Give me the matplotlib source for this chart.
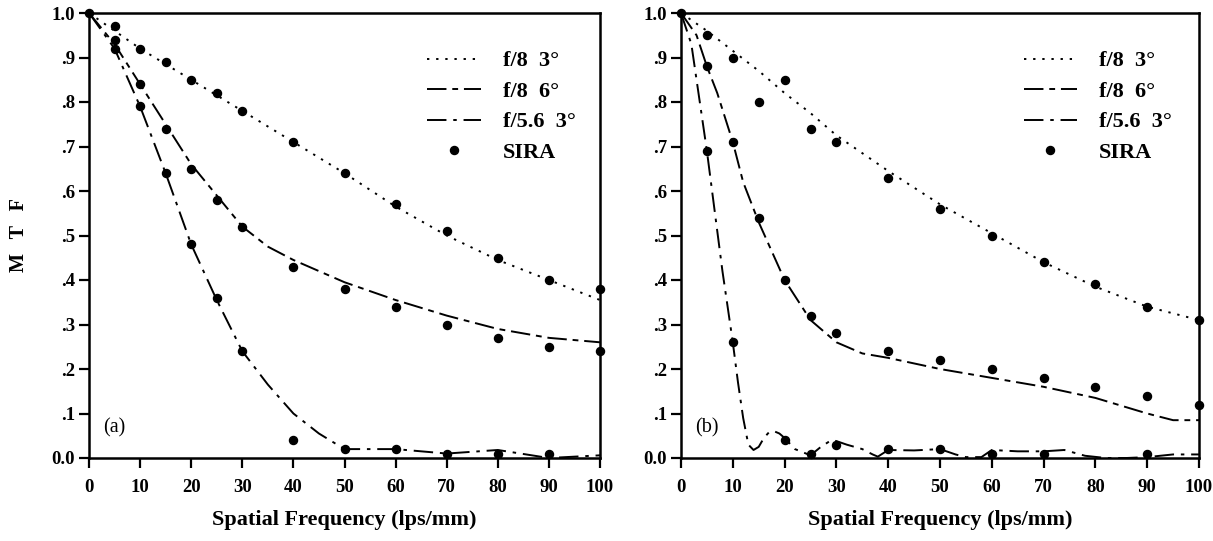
import matplotlib
matplotlib.use("Agg")
import matplotlib.pyplot as plt

plt.rcParams['font.family'] = ['Liberation Serif', 'DejaVu Serif']
plt.rcParams['font.weight'] = 'bold'

# ---------------- data: panel (a) ----------------
a_f8_3_x = [0, 5, 10, 15, 20, 25, 30, 40, 50, 60, 70, 80, 90, 100]
a_f8_3_y = [1.0, 0.96, 0.92, 0.885, 0.85, 0.815, 0.78, 0.71, 0.64, 0.565, 0.50, 0.445, 0.40, 0.355]
a_f8_6_x = [0, 5, 10, 15, 20, 25, 30, 35, 40, 50, 60, 70, 80, 90, 100]
a_f8_6_y = [1.0, 0.93, 0.84, 0.75, 0.66, 0.59, 0.52, 0.475, 0.445, 0.395, 0.355, 0.32, 0.29, 0.27, 0.26]
a_f56_3_x = [0, 5, 10, 15, 20, 25, 30, 35, 40, 45, 50, 60, 70, 80, 90, 100]
a_f56_3_y = [1.0, 0.92, 0.79, 0.64, 0.48, 0.355, 0.24, 0.165, 0.10, 0.055, 0.02, 0.02, 0.01, 0.018, 0.0, 0.006]
a_sira_x = [0, 5, 10, 15, 20, 25, 30, 40, 50, 60, 70, 80, 90, 100,
            5, 10, 15, 20, 25, 30, 40, 50, 60, 70, 80, 90, 100,
            5, 10, 15, 20, 25, 30, 40, 50, 60, 70, 80, 90]
a_sira_y = [1.0, 0.97, 0.92, 0.89, 0.85, 0.82, 0.78, 0.71, 0.64, 0.57, 0.51, 0.45, 0.40, 0.38,
            0.94, 0.84, 0.74, 0.65, 0.58, 0.52, 0.43, 0.38, 0.34, 0.30, 0.27, 0.25, 0.24,
            0.92, 0.79, 0.64, 0.48, 0.36, 0.24, 0.04, 0.02, 0.02, 0.01, 0.01, 0.01]

# ---------------- data: panel (b) ----------------
b_f8_3_x = [0, 5, 10, 15, 20, 25, 30, 40, 50, 60, 70, 80, 90, 100]
b_f8_3_y = [1.0, 0.96, 0.915, 0.87, 0.82, 0.775, 0.725, 0.645, 0.57, 0.505, 0.44, 0.385, 0.34, 0.31]
b_f8_6_x = [0, 3, 5, 7, 10, 12, 15, 20, 25, 30, 35, 40, 50, 60, 70, 80, 90, 95, 100]
b_f8_6_y = [1.0, 0.95, 0.88, 0.82, 0.71, 0.62, 0.53, 0.40, 0.31, 0.26, 0.235, 0.225, 0.20, 0.18, 0.16, 0.135, 0.10, 0.085, 0.085]
b_f56_3_x = [0, 2, 5, 8, 10, 11, 12, 13, 14, 15, 16, 17, 18, 19, 20, 22, 25, 27, 29, 30, 32, 35, 37, 38,
             40, 45, 50, 53, 55, 58, 60, 65, 70, 74, 78, 82, 86, 90, 95, 100]
b_f56_3_y = [1.0, 0.93, 0.69, 0.42, 0.26, 0.17, 0.09, 0.03, 0.018, 0.025, 0.045, 0.058, 0.06, 0.055, 0.045, 0.02, 0.006, 0.025, 0.04, 0.038, 0.03, 0.02, 0.008, 0.003,
             0.018, 0.017, 0.02, 0.008, 0.002, 0.002, 0.018, 0.015, 0.015, 0.018, 0.005, 0.0, 0.0, 0.002, 0.008, 0.008]
b_sira_x = [0, 5, 10, 15, 20, 25, 30, 40, 50, 60, 70, 80, 90, 100,
            5, 10, 15, 20, 25, 30, 40, 50, 60, 70, 80, 90, 100,
            5, 10, 20, 25, 30, 40, 50, 60, 70, 90]
b_sira_y = [1.0, 0.95, 0.90, 0.80, 0.85, 0.74, 0.71, 0.63, 0.56, 0.50, 0.44, 0.39, 0.34, 0.31,
            0.88, 0.71, 0.54, 0.40, 0.32, 0.28, 0.24, 0.22, 0.20, 0.18, 0.16, 0.14, 0.12,
            0.69, 0.26, 0.04, 0.01, 0.03, 0.02, 0.02, 0.01, 0.01, 0.01]

x_ticks = [0, 10, 20, 30, 40, 50, 60, 70, 80, 90, 100]
y_ticks = [0.0, 0.1, 0.2, 0.3, 0.4, 0.5, 0.6, 0.7, 0.8, 0.9, 1.0]
y_ticklabels = ['0.0', '.1', '.2', '.3', '.4', '.5', '.6', '.7', '.8', '.9', '1.0']
labels = ['f/8  3°', 'f/8  6°', 'f/5.6  3°', 'SIRA']
panel_tags = ['(a)', '(b)']

ls_dot = (0, (1.2, 3.5))
ls_f86 = (0, (10, 3, 3, 3))
ls_f56 = (0, (10, 3.5, 1.8, 3.5))

fig = plt.figure(figsize=(12.13, 5.41), dpi=100)
axA = fig.add_axes([89/1213, 1-458/541, 511/1213, 445/541])
axB = fig.add_axes([681/1213, 1-458/541, 518/1213, 445/541])

panels = [
    (axA, a_f8_3_x, a_f8_3_y, a_f8_6_x, a_f8_6_y, a_f56_3_x, a_f56_3_y, a_sira_x, a_sira_y),
    (axB, b_f8_3_x, b_f8_3_y, b_f8_6_x, b_f8_6_y, b_f56_3_x, b_f56_3_y, b_sira_x, b_sira_y),
]

for i, (ax, x1, y1, x2, y2, x3, y3, xs, ys) in enumerate(panels):
    h1, = ax.plot(x1, y1, color='black', lw=1.4, linestyle=ls_dot, label=labels[0])
    h2, = ax.plot(x2, y2, color='black', lw=1.4, linestyle=ls_f86, label=labels[1])
    h3, = ax.plot(x3, y3, color='black', lw=1.4, linestyle=ls_f56, label=labels[2])
    h4, = ax.plot(xs, ys, 'o', color='black', ms=5.8, linestyle='none', label=labels[3], clip_on=False, zorder=5)
    ax.set_xlim(0, 100)
    ax.set_ylim(0, 1.0)
    ax.set_xticks(x_ticks)
    ax.set_yticks(y_ticks)
    ax.set_yticklabels(y_ticklabels)
    ax.tick_params(axis='both', direction='out', length=7, width=1.6, labelsize=13.5, pad=3)
    ax.tick_params(axis='x', pad=8)
    for sp in ax.spines.values():
        sp.set_linewidth(1.8)
    for lab in ax.get_xticklabels() + ax.get_yticklabels():
        lab.set_fontweight('bold')
    ax.set_xlabel('Spatial Frequency (lps/mm)', fontsize=16, fontweight='bold', labelpad=10)
    ax.text(5, 0.067, panel_tags[i], fontsize=14.5, fontweight='normal', ha='center', va='center')
    leg = ax.legend(handles=[h1, h2, h3, h4], loc='upper left', bbox_to_anchor=(0.623, 0.96),
                    frameon=False, fontsize=16, handlelength=2.4, handletextpad=1.0,
                    labelspacing=0.45, numpoints=1)
    for t in leg.get_texts():
        t.set_fontweight('bold')

axA.set_ylabel('M   T   F', fontsize=14.5, fontweight='bold')
axA.yaxis.set_label_coords(-0.118, 0.5)

fig.savefig('out.png', dpi=100)
